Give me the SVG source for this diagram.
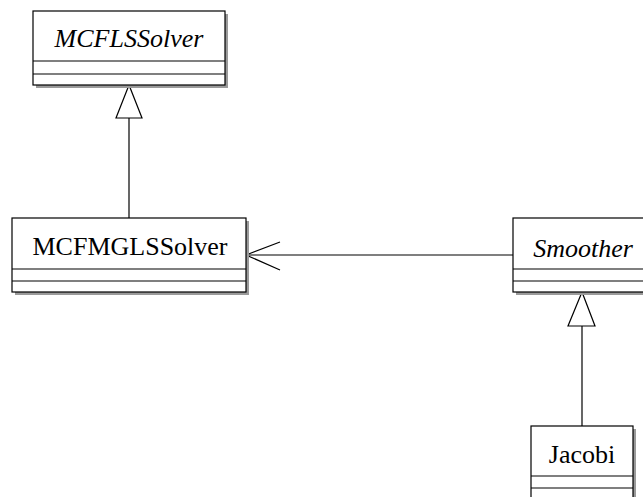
<svg xmlns="http://www.w3.org/2000/svg" width="643" height="497" viewBox="0 0 643 497">
<style>
.box{fill:#fff;stroke:#000;stroke-width:1.2}
.sh{fill:#9a9a9a}
.sep{stroke:#000;stroke-width:1.2}
.t{font-family:"Liberation Serif","Times New Roman",serif;font-size:26px;fill:#000;text-anchor:middle}
.i{font-style:italic}
.ln{stroke:#000;stroke-width:1.2;fill:none}
.tri{fill:#fff;stroke:#000;stroke-width:1.2}
</style>
<rect width="643" height="497" fill="#fff"/>
<g id="connectors">
<line class="ln" x1="129" y1="118" x2="129" y2="218"/>
<polygon class="tri" points="129,85 116,118 142,118"/>
<line class="ln" x1="246" y1="255" x2="513" y2="255"/>
<polyline class="ln" points="280,242 246,255 280,270"/>
<line class="ln" x1="582" y1="326" x2="582" y2="426"/>
<polygon class="tri" points="582,292 568,326 595,326"/>
</g>
<g id="MCFLSSolver">
<rect class="sh" x="36" y="14" width="192" height="74"/>
<rect class="box" x="33" y="11" width="192" height="74"/>
<line class="sep" x1="33" y1="61" x2="225" y2="61"/>
<line class="sep" x1="33" y1="74" x2="225" y2="74"/>
<text class="t i" x="129" y="47">MCFLSSolver</text>
</g>
<g id="MCFMGLSSolver">
<rect class="sh" x="15" y="221" width="234" height="74"/>
<rect class="box" x="12" y="218" width="234" height="74"/>
<line class="sep" x1="12" y1="269" x2="246" y2="269"/>
<line class="sep" x1="12" y1="281" x2="246" y2="281"/>
<text class="t" x="130" y="255">MCFMGLSSolver</text>
</g>
<g id="Smoother">
<rect class="sh" x="516" y="221" width="138" height="74"/>
<rect class="box" x="513" y="218" width="138" height="74"/>
<line class="sep" x1="513" y1="269" x2="651" y2="269"/>
<line class="sep" x1="513" y1="281" x2="651" y2="281"/>
<text class="t i" x="583" y="257">Smoother</text>
</g>
<g id="Jacobi">
<rect class="sh" x="534" y="429" width="102" height="74"/>
<rect class="box" x="531" y="426" width="102" height="74"/>
<line class="sep" x1="531" y1="476" x2="633" y2="476"/>
<line class="sep" x1="531" y1="488" x2="633" y2="488"/>
<text class="t" x="582" y="463">Jacobi</text>
</g>
</svg>
